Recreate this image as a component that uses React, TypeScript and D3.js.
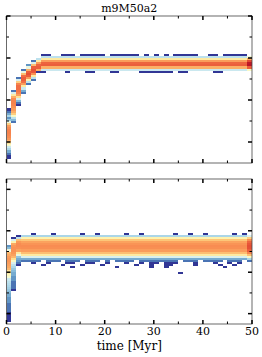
import React from "react";
import * as d3 from "d3";

const title = "m9M50a2";
const xLabel = "time [Myr]";

// 1 Myr time bins, 0..49
const timeBins = d3.range(0, 50);
const xMajor = [0, 10, 20, 30, 40, 50];
const xMinor = [5, 15, 25, 35, 45];

// y is in bin units (70 rows per panel, no labels in the original)
const topYMajor = [10, 30, 50, 70];
const topYMinor = [20, 40, 60];
const botYMajor = [5, 25, 45, 65];
const botYMinor = [15, 35, 55];

// ---- top panel ----
// row holding the peak of each time bin
const topCenter = [
  15, 28, 35, 40, 43, 44, 45, 46, 46, 46,
  46, 46, 46, 46, 46, 46, 46, 46, 46, 46,
  46, 46, 46, 46, 46, 46, 46, 46, 46, 46,
  46, 46, 46, 46, 46, 46, 46, 46, 46, 46,
  46, 46, 46, 46, 46, 46, 46, 46, 46, 46,
];
// first bins: own counts, listed from the top row down
const topEarlyTop = [25, 34, 40, 44, 46, 48];
const topEarlyCounts = [
  [1, 2, 4, 8, 3, 6, 20, 80, 150, 180, 200, 200, 190, 180, 160, 120, 60, 30, 12, 8, 4, 2, 1, 1],
  [2, 15, 50, 120, 180, 200, 200, 190, 170, 150, 120, 80, 30, 10, 5, 2],
  [2, 15, 80, 200, 250, 250, 230, 200, 150, 60, 15, 5, 2, 1],
  [2, 20, 100, 250, 300, 300, 250, 150, 50, 12, 4, 2],
  [3, 20, 120, 300, 350, 300, 150, 40, 10, 2],
  [2, 15, 100, 300, 350, 320, 170, 50, 10, 2],
];
// later bins: counts from center+4 down to center-2
const topSteady = [10, 50, 150, 280, 300, 120, 12];
const topSteadyAbove = 4;
const topLastScale = 2.5;
// sparse single counts (time bin lists per row)
const topOutAbove = [7, 8, 11, 12, 13, 15, 16, 17, 18, 19, 21, 22, 23, 24, 25, 26, 28, 30, 32, 34, 35, 36, 37, 38, 41, 42, 44, 45, 46, 47, 48];
const topOutBelow = [6, 7, 12, 16, 17, 21, 22, 27, 28, 29, 30, 31, 32, 33, 35, 36, 42, 43];

// ---- bottom panel ----
const botCenter = [
  29, 35, 38, 37, 37, 37, 37, 37, 37, 37,
  37, 37, 37, 37, 37, 37, 37, 37, 37, 37,
  37, 37, 37, 37, 37, 37, 37, 37, 37, 37,
  37, 37, 37, 37, 37, 37, 37, 37, 37, 37,
  37, 37, 37, 37, 37, 37, 37, 37, 37, 37,
];
const botEarlyTop = [37, 41, 42];
const botEarlyCounts = [
  [3, 5, 20, 110, 130, 150, 160, 160, 150, 140, 130, 110, 60, 45, 35, 25, 12, 10, 9, 8, 7, 6, 5, 4, 4, 3, 3, 3, 2, 2, 2, 2, 1, 1, 1, 1, 1],
  [1, 15, 40, 130, 160, 170, 170, 160, 140, 110, 60, 30, 15, 10, 8, 6, 5, 4, 4, 3, 3, 2, 2, 2, 2, 1],
  [1, 10, 100, 160, 180, 180, 170, 140, 50, 20, 6, 4, 3, 2, 1],
];
const botSteady = [8, 40, 90, 140, 165, 180, 175, 150, 100, 50, 15, 4];
const botSteadyAbove = 5;
const botLastScale = 2;
// sparse counts: [time bins, row, count]
const botOut43 = [5, 9, 15, 18, 24, 27, 34, 37, 40, 46, 48];
const botOut30 = [3, 4, 5, 6, 8, 9, 10, 12, 13, 14, 16, 17, 18, 20, 22, 23, 24, 25, 27, 28, 29, 30, 31, 32, 33, 34, 36, 37, 38, 40, 41, 42, 43, 45, 46, 47, 49];
const botOut29 = [5, 8, 12, 13, 16, 17, 20, 24, 27, 29, 30, 32, 33, 34, 38, 42, 45, 47];
const botOut28 = [7, 11, 15, 19, 26, 29, 32, 33, 38, 43, 46];
const botOut27 = [13, 22, 29, 32, 44];
const botOut24 = [35];

type Cell = { t: number; r: number; c: number };

function buildCells(
  center: number[], earlyTop: number[], earlyCounts: number[][],
  steady: number[], steadyAbove: number, lastScale: number,
  outliers: [number[], number, number][]
): Cell[] {
  const cells: Cell[] = [];
  timeBins.forEach((t) => {
    const k = t === timeBins.length - 1 ? lastScale : 1;
    if (t < earlyTop.length) {
      earlyCounts[t].forEach((c, i) => cells.push({ t, r: earlyTop[t] - i, c }));
    } else {
      const top = center[t] + steadyAbove;
      steady.forEach((c, i) => cells.push({ t, r: top - i, c: c * k }));
    }
  });
  outliers.forEach(([times, r, c]) => times.forEach((t) => cells.push({ t, r, c })));
  return cells;
}

const topCells = buildCells(topCenter, topEarlyTop, topEarlyCounts, topSteady, topSteadyAbove, topLastScale,
  [[topOutAbove, 51, 1], [topOutBelow, 43, 1]]);
const botCells = buildCells(botCenter, botEarlyTop, botEarlyCounts, botSteady, botSteadyAbove, botLastScale,
  [[botOut43, 43, 1], [botOut30, 30, 2], [botOut29, 29, 1], [botOut28, 28, 1], [botOut27, 27, 1], [botOut24, 24, 1]]);

const W = 262, H = 357;
const x = d3.scaleLinear().domain([0, 50]).range([6.5, 252]);
const color = d3.scaleSequentialLog((v: number) => d3.interpolateRdYlBu(1 - v)).domain([1, 1000]).clamp(true);
const font = "DejaVu Serif, serif";

function Panel({ cells, y, yMajor, yMinor }: { cells: Cell[]; y: d3.ScaleLinear<number, number>; yMajor: number[]; yMinor: number[] }) {
  const [x0, x1] = x.range();
  const [yb, yt] = y.range();
  const maj = 4, min = 2.5;
  return (
    <g>
      <g shapeRendering="crispEdges">
        {cells.map((d, i) => (
          <rect key={i} x={x(d.t)} width={x(d.t + 1) - x(d.t)} y={y(d.r + 1)} height={y(d.r) - y(d.r + 1)} fill={color(d.c)} />
        ))}
      </g>
      <rect x={x0} y={yt} width={x1 - x0} height={yb - yt} fill="none" stroke="#444" strokeWidth={0.8} />
      {xMajor.map((v) => (
        <g key={"xM" + v} stroke="#000" strokeWidth={1.5}>
          <line x1={x(v)} x2={x(v)} y1={yb} y2={yb - maj} />
          <line x1={x(v)} x2={x(v)} y1={yt} y2={yt + maj} />
        </g>
      ))}
      {xMinor.map((v) => (
        <g key={"xm" + v} stroke="#000" strokeWidth={1}>
          <line x1={x(v)} x2={x(v)} y1={yb} y2={yb - min} />
          <line x1={x(v)} x2={x(v)} y1={yt} y2={yt + min} />
        </g>
      ))}
      {yMajor.map((v) => (
        <g key={"yM" + v} stroke="#000" strokeWidth={1.5}>
          <line x1={x0} x2={x0 + maj} y1={y(v)} y2={y(v)} />
          <line x1={x1} x2={x1 - maj} y1={y(v)} y2={y(v)} />
        </g>
      ))}
      {yMinor.map((v) => (
        <g key={"ym" + v} stroke="#000" strokeWidth={1}>
          <line x1={x0} x2={x0 + min} y1={y(v)} y2={y(v)} />
          <line x1={x1} x2={x1 - min} y1={y(v)} y2={y(v)} />
        </g>
      ))}
    </g>
  );
}

export default function App() {
  const yTop = d3.scaleLinear().domain([0, 70]).range([163, 16]);
  const yBot = d3.scaleLinear().domain([0, 70]).range([324, 179]);
  const cx = (x.range()[0] + x.range()[1]) / 2;
  return (
    <svg width={W} height={H} style={{ position: "absolute", left: 0, top: 0, background: "#fff" }}>
      <text x={cx} y={12} textAnchor="middle" fontFamily={font} fontSize={11}>{title}</text>
      <Panel cells={topCells} y={yTop} yMajor={topYMajor} yMinor={topYMinor} />
      <Panel cells={botCells} y={yBot} yMajor={botYMajor} yMinor={botYMinor} />
      {xMajor.map((v) => (
        <text key={v} x={x(v)} y={335} textAnchor="middle" fontFamily={font} fontSize={11}>{v}</text>
      ))}
      <text x={cx} y={350} textAnchor="middle" fontFamily={font} fontSize={12}>{xLabel}</text>
    </svg>
  );
}
